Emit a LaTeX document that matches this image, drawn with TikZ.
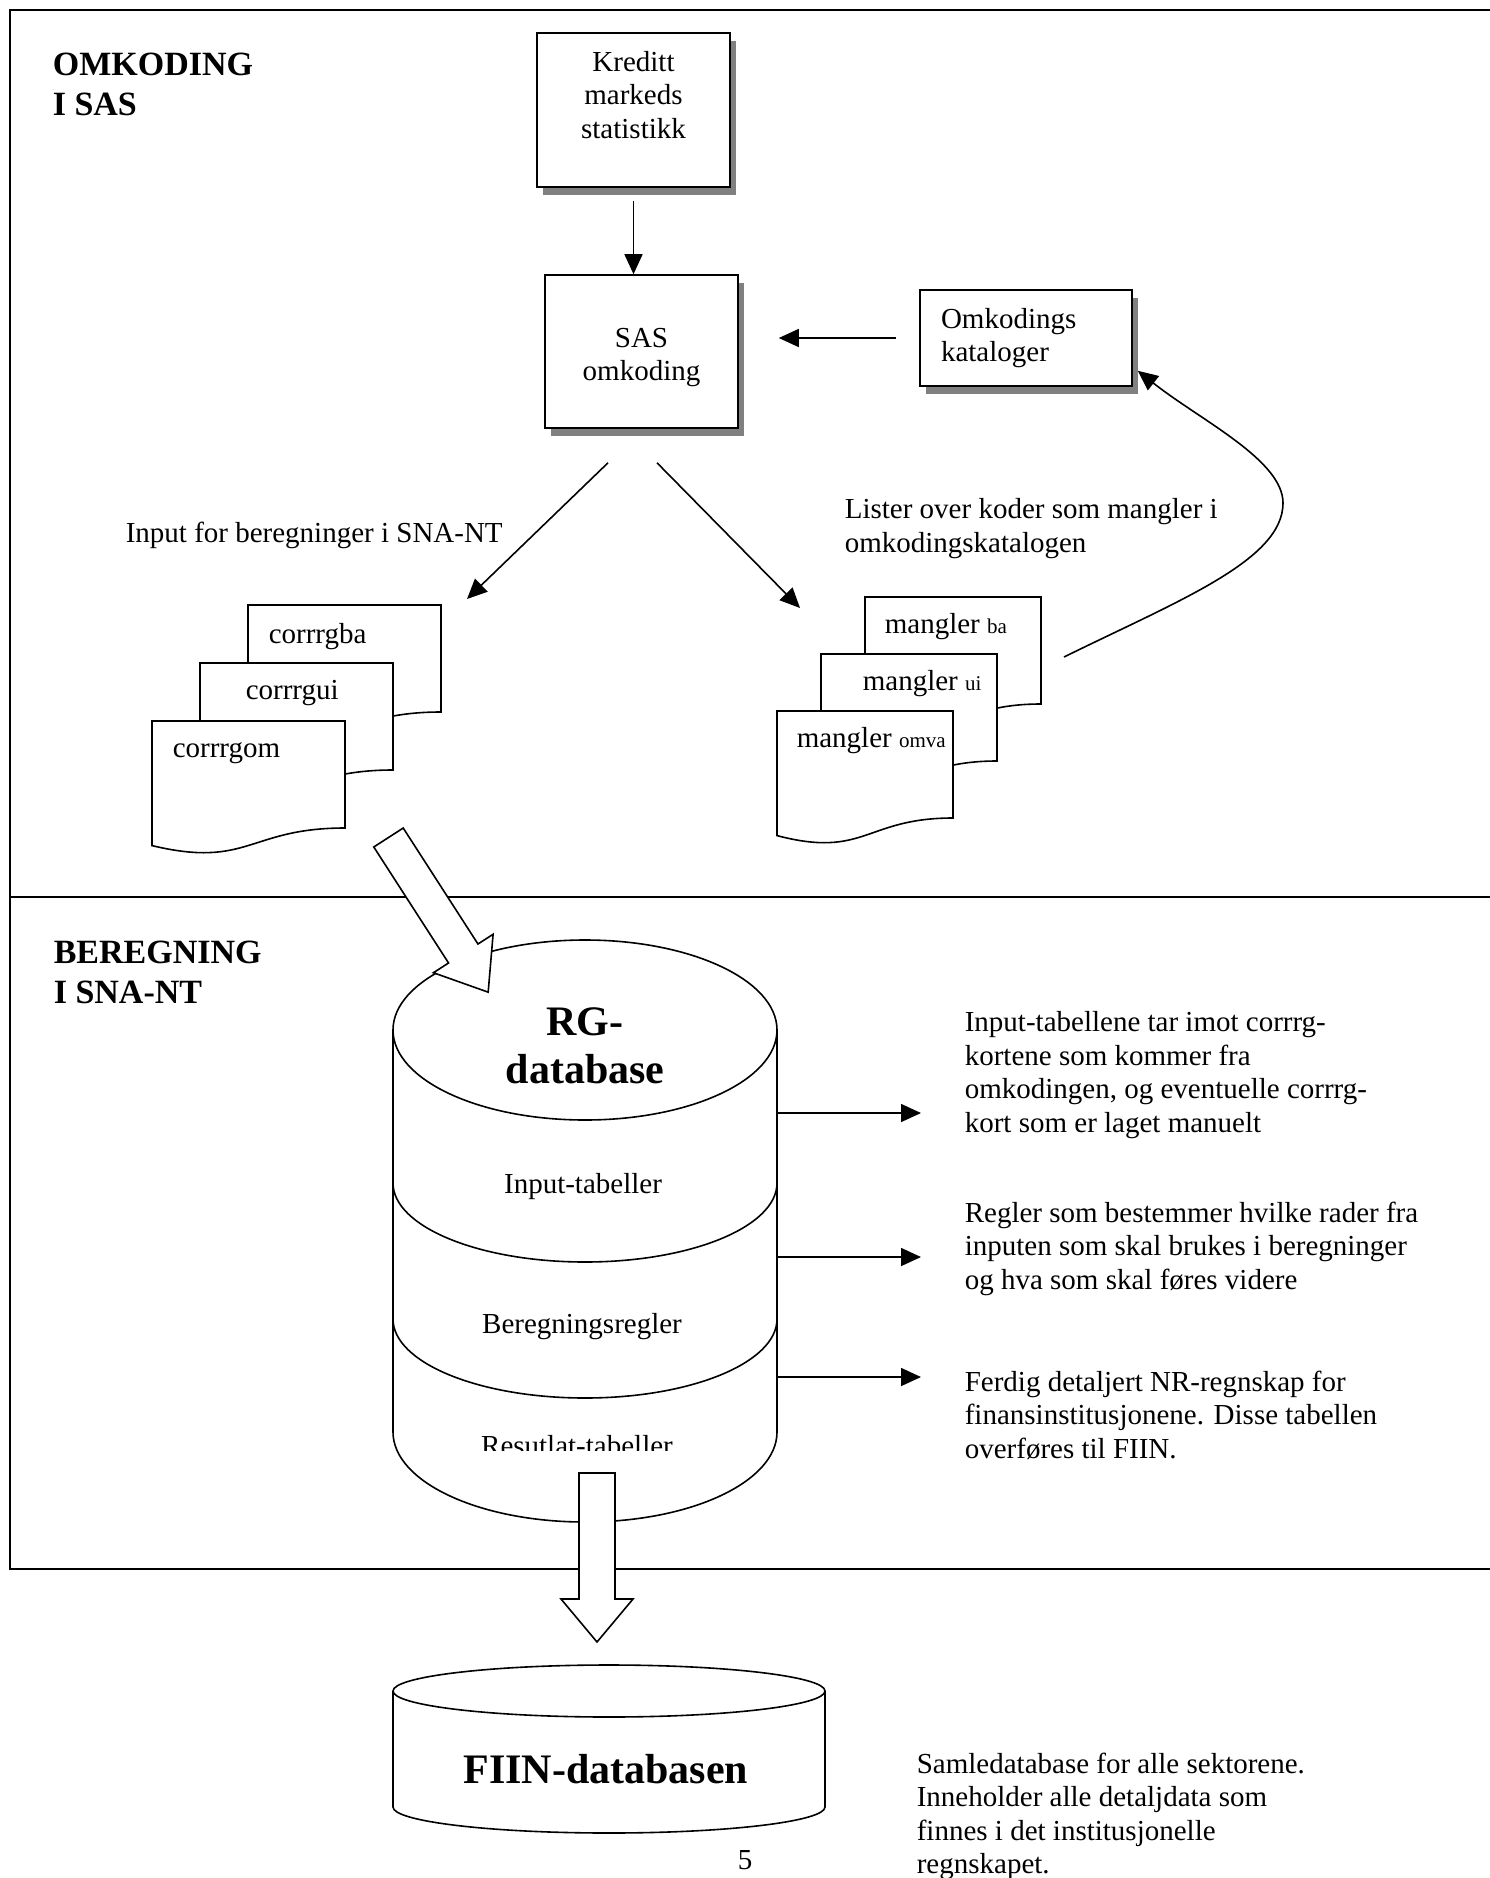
\documentclass[tikz,border=0pt]{standalone}
\usepackage{fontspec}
\setmainfont{Liberation Serif}
\usetikzlibrary{arrows.meta, positioning, calc, shadows}
\newcommand{\suff}[1]{{\fontsize{21}{24}\selectfont #1}}

\begin{document}
\begin{tikzpicture}[x=1pt, y=-1pt, line width=1.6pt,
  txt/.style={font=\fontsize{29}{33.5}\selectfont, inner sep=0pt},
  head/.style={font=\bfseries\fontsize{34}{40}\selectfont, inner sep=0pt, align=left, anchor=north west},
  big/.style={font=\bfseries\fontsize{42}{48}\selectfont, inner sep=0pt},
  box/.style={draw, fill=white, txt, drop shadow={shadow xshift=6pt, shadow yshift=-8pt, fill=black!50, opacity=1}},
  arr/.style={-{Triangle[length=20pt, width=18pt]}},
  frame/.style={line width=2.2pt},
  paper/.style={draw, fill=white}]
        \useasboundingbox (0,0) rectangle (1490,1878);

        % frame with the two parts
        \draw[frame] (1500,10) -- (10,10) -- (10,1569) -- (1500,1569);
        \draw[frame] (10,897) -- (1500,897);

        \node[head] (omk) at (52,52) {OMKODING\\I SAS};
        \node[head] (ber) at (53,940) {BEREGNING\\I SNA-NT};

        \node[box, minimum width=193pt, minimum height=154pt] (kred) at (633.5,110) {};
        \node[txt, align=center, below=18pt of kred.north] (kredtxt) {Kreditt\\markeds\\statistikk};
        \node[box, minimum width=193pt, minimum height=153pt] (sas) at (641.5,351.5) {};
        \node[txt, align=center] (sastxt) at ([yshift=-6pt]sas.center) {SAS\\omkoding};
        \node[box, minimum height=96pt, text width=170pt, inner xsep=21pt, align=left] (kat) at (1026,338) {Omkodings\\kataloger};

        \draw[arr] ([yshift=-13pt]kred.south) -- (kred.south |- sas.north);
        \draw[arr] ([xshift=-23pt]kat.west) -- ([xshift=40pt]sas.east |- kat.west);

        \coordinate (cin) at (467,599);
        \coordinate (min) at (800,608);
        \draw[arr] ($(sas.south)+(-33.5,34)$) -- (cin);
        \draw[arr] ($(sas.south)+(15.5,34)$) -- (min);

        \node[txt, anchor=base west] (inlbl) at (125,542) {Input for beregninger i SNA-NT};
        \node[txt, align=left, anchor=north west] (lister) at (844,498) {Lister over koder som mangler i\\omkodingskatalogen};

        % output lists
        \foreach \x/\y in {248/605, 200/663, 152/721}
                 {
                   \draw[paper] (\x,\y) -- ++(193,0) -- ++(0,107) .. controls +(-96.5,0) and +(96.5,23.1) .. (\x,\y+124.6) -- cycle;
                 }
        \foreach \x/\y in {865/597, 821/654, 777/711}
                 {
                   \draw[paper] (\x,\y) -- ++(176,0) -- ++(0,107) .. controls +(-88,0) and +(88,23.1) .. (\x,\y+124.6) -- cycle;
                 }
        \node[txt, anchor=base west] (cba) at (268,643) {corrrgba};
        \node[txt, anchor=base west] (cui) at (245,699) {corrrgui};
        \node[txt, anchor=base west] (com) at (172,757) {corrrgom};
        \node[txt, anchor=base west] (mba) at (884,633) {mangler \suff{ba}};
        \node[txt, anchor=base west] (mui) at (862,690) {mangler \suff{ui}};
        \node[txt, anchor=base west] (mom) at (796,747) {mangler \suff{omva}};

        \coordinate (lst) at (1064,657);
        \coordinate (katin) at ($(kat.south east)+(5,-16)$);
        \draw[arr] (lst) .. controls (1180,600) and (1283,560) .. (1283,503) .. controls (1283,460) and (1200,420) .. (katin);

        % RG-database
        \draw[fill=white] (393,1030) -- (393,1432) arc[start angle=180, end angle=0, x radius=192, y radius=90] -- (777,1030);
        \draw[fill=white] (585,1030) ellipse[x radius=192, y radius=90];
        \foreach \y in {1183, 1319}
                 {
                   \draw (393,\y) arc[start angle=180, end angle=0, x radius=192, y radius=79];
                 }
        \node[big, align=center] (rg) at (585,1046) {RG-\\database};
        \node[txt, anchor=base] (inp) at (583,1193) {Input-tabeller};
        \node[txt, anchor=base] (regl) at (582,1333) {Beregningsregler};
        \begin{scope}
          \clip (460,1400) rectangle (700,1450);
          \node[txt, anchor=base] (res) at (577,1455) {Resutlat-tabeller};
        \end{scope}

        \foreach \y [count=\i] in {1113, 1257, 1377}
                 {
                   \coordinate (rg\i) at (777,\y);
                   \draw[arr] (rg\i) -- ++(144,0);
                 }
        \node[txt, align=left, anchor=north west] (d1) at (964,1011) {Input-tabellene tar imot corrrg-\\kortene som kommer fra\\omkodingen, og eventuelle corrrg-\\kort som er laget manuelt};
        \node[txt, align=left, anchor=north west] (d2) at (964,1201) {Regler som bestemmer hvilke rader fra\\inputen som skal brukes i beregninger\\og hva som skal føres videre};
        \node[txt, align=left, anchor=north west] (d3) at (964,1370) {Ferdig detaljert NR-regnskap for\\finansinstitusjonene. Disse tabellen\\overføres til FIIN.};

        % hollow arrows
        \begin{scope}[shift={(388.5,837.5)}, rotate=-57.2]
          \draw[fill=white] (0,-17.5) -- (138,-17.5) -- (138,-35.5) -- (184,0) -- (138,35.5) -- (138,17.5) -- (0,17.5) -- cycle;
        \end{scope}
        \draw[fill=white] (579,1473) -- (615,1473) -- (615,1599) -- (633,1599) -- (597,1642) -- (561,1599) -- (579,1599) -- cycle;

        % FIIN-database
        \draw[fill=white] (393,1691) -- (393,1807) arc[start angle=180, end angle=0, x radius=216, y radius=26] -- (825,1691);
        \draw (609,1691) ellipse[x radius=216, y radius=26];
        \node[big, anchor=base] (fiin) at (606,1783) {FIIN-databasen};
        \node[txt, align=left, anchor=north west] (samle) at (916,1752) {Samledatabase for alle sektorene.\\Inneholder alle detaljdata som\\finnes i det institusjonelle\\regnskapet.};
        \node[txt, anchor=base] (pg) at (745,1869) {5};
      \end{tikzpicture}
\end{document}
